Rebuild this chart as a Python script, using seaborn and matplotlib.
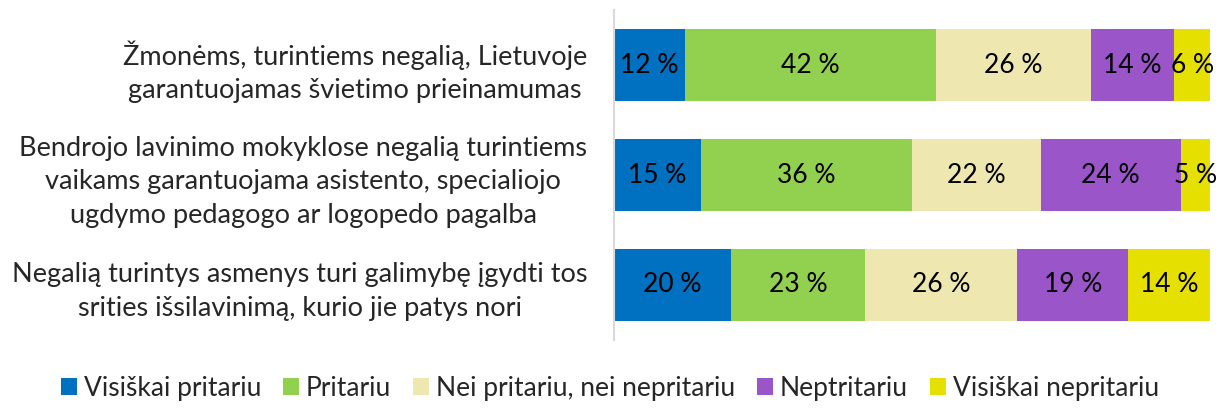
import seaborn as sns
import matplotlib.pyplot as plt
import numpy as np
import pandas as pd

# klausimai (y ašis)
klausimai = [
    "Žmonėms, turintiems negalią, Lietuvoje\ngarantuojamas švietimo prieinamumas",
    "Bendrojo lavinimo mokyklose negalią turintiems\nvaikams garantuojama asistento, specialiojo\nugdymo pedagogo ar logopedo pagalba",
    "Negalią turintys asmenys turi galimybę įgydti tos\nsrities išsilavinimą, kurio jie patys nori",
]
atsakymai = ["Visiškai pritariu", "Pritariu", "Nei pritariu, nei nepritariu",
             "Neptritariu", "Visiškai nepritariu"]
spalvos = ["#0070C0", "#92D050", "#EEE8B0", "#9A55C9", "#E6E000"]

visiskai_pritariu = [12, 15, 20]
pritariu = [42, 36, 23]
nei_nei = [26, 22, 26]
nepritariu = [14, 24, 19]
visiskai_nepritariu = [6, 5, 14]

sns.set_style("white")
plt.rcParams['font.family'] = ['Lato', 'DejaVu Sans']

df = pd.DataFrame({
    atsakymai[0]: visiskai_pritariu,
    atsakymai[1]: pritariu,
    atsakymai[2]: nei_nei,
    atsakymai[3]: nepritariu,
    atsakymai[4]: visiskai_nepritariu,
}, index=klausimai)
# 100 % sudėtinė juosta
dalys = df.div(df.sum(axis=1), axis=0) * 100
kaup = dalys.cumsum(axis=1)

fig = plt.figure(figsize=(12.2, 4.08), dpi=100)
ax = fig.add_axes([0.503, 0.167, 0.489, 0.808])

# nuo galo, kad trumpesnės juostos būtų viršuje
for i in range(len(atsakymai) - 1, -1, -1):
    sns.barplot(x=kaup[atsakymai[i]].values, y=klausimai, color=spalvos[i],
                orient="h", width=0.655, ax=ax, label=atsakymai[i],
                saturation=1, linewidth=0)

for r, q in enumerate(klausimai):
    pradzia = 0
    for a in atsakymai:
        w = dalys.loc[q, a]
        ax.text(pradzia + w / 2, r, f"{df.loc[q, a]} %", ha="center", va="center",
                fontsize=19, color="black")
        pradzia += w

ax.set_xlim(0, 100)
ax.set_ylim(2.5, -0.5)
ax.set_xticks([])
ax.set_xlabel("")
ax.tick_params(axis="y", length=0, pad=19, labelsize=19.5)
for lab in ax.get_yticklabels():
    lab.set_multialignment("center")
    lab.set_linespacing(1.42)
for s in ["top", "right", "bottom"]:
    ax.spines[s].set_visible(False)
ax.spines["left"].set_color("#D9D9D9")
ax.spines["left"].set_linewidth(1.5)

h, l = ax.get_legend_handles_labels()
fig.legend(h[::-1], l[::-1], loc="lower center", bbox_to_anchor=(0.5, -0.04),
           ncol=5, frameon=False, fontsize=19, handlelength=0.6, handleheight=0.6,
           handletextpad=0.25, columnspacing=0.85)
ax.get_legend().remove() if ax.get_legend() else None

fig.savefig("out.png", dpi=100)
